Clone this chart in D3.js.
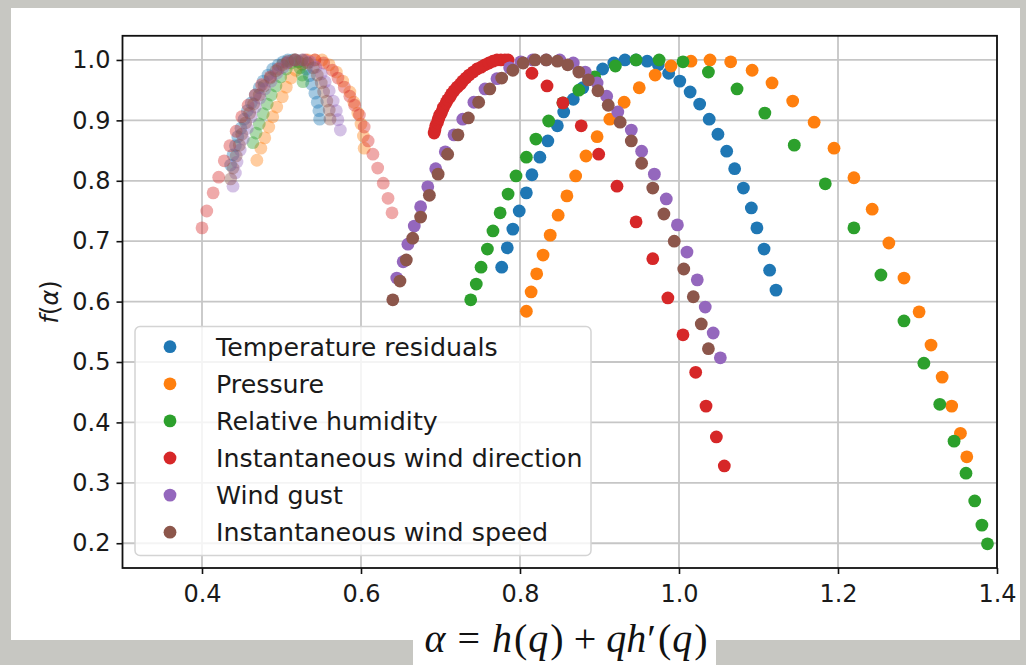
<!DOCTYPE html>
<html>
<head>
<meta charset="utf-8">
<script src="https://cdn.jsdelivr.net/npm/d3@7"></script>
<style>
  html, body { margin: 0; padding: 0; background: #c7c7c2; }
  svg { display: block; }
</style>
</head>
<body>
<svg id="chart" width="1026" height="665"></svg>
<script>
// ---- Series names (legend order) ----
const seriesNames = [
  "Temperature residuals",
  "Pressure",
  "Relative humidity",
  "Instantaneous wind direction",
  "Wind gust",
  "Instantaneous wind speed"
];

// ---- Multifractal spectra of the original records: alpha and f(alpha) ----
const tempAlpha = [0.777,0.784,0.791,0.799,0.808,0.815,0.825,0.835,0.847,0.855,0.867,0.879,0.892,0.904,0.918,0.932,0.946,0.960,0.974,0.987,1.001,1.014,1.026,1.038,1.049,1.060,1.070,1.081,1.091,1.098,1.107,1.114,1.122];
const tempF     = [0.657,0.689,0.720,0.750,0.780,0.810,0.839,0.866,0.891,0.914,0.935,0.954,0.970,0.985,0.995,1.000,1.000,0.998,0.992,0.978,0.965,0.947,0.927,0.902,0.877,0.849,0.820,0.788,0.755,0.722,0.687,0.652,0.619];

const pressAlpha = [0.808,0.814,0.821,0.829,0.838,0.848,0.859,0.870,0.883,0.897,0.913,0.931,0.950,0.970,0.990,1.015,1.039,1.065,1.092,1.117,1.143,1.170,1.195,1.220,1.243,1.264,1.283,1.302,1.317,1.331,1.343,1.354,1.362];
const pressF     = [0.584,0.616,0.646,0.677,0.710,0.743,0.775,0.808,0.841,0.873,0.902,0.930,0.954,0.975,0.990,0.998,1.000,0.997,0.983,0.962,0.932,0.897,0.854,0.805,0.753,0.697,0.639,0.583,0.528,0.475,0.427,0.382,0.343];

const humAlpha = [0.738,0.745,0.751,0.759,0.766,0.775,0.785,0.795,0.808,0.820,0.836,0.854,0.874,0.894,0.920,0.946,0.975,1.005,1.037,1.073,1.108,1.145,1.184,1.220,1.254,1.283,1.308,1.328,1.346,1.361,1.372,1.381,1.388];
const humF     = [0.603,0.629,0.657,0.687,0.717,0.747,0.778,0.808,0.839,0.869,0.899,0.929,0.950,0.972,0.990,1.000,1.000,0.997,0.980,0.952,0.912,0.859,0.795,0.722,0.644,0.568,0.498,0.430,0.369,0.316,0.270,0.230,0.199];

const dirAlpha = [0.692,0.693,0.694,0.696,0.697,0.698,0.699,0.701,0.703,0.704,0.707,0.709,0.712,0.714,0.717,0.721,0.725,0.728,0.732,0.736,0.741,0.746,0.751,0.756,0.761,0.766,0.771,0.776,0.781,0.785,
                  0.815,0.834,0.854,0.877,0.899,0.922,0.946,0.967,0.986,1.005,1.021,1.034,1.047,1.057];
const dirF     = [0.879,0.884,0.891,0.896,0.901,0.904,0.909,0.912,0.919,0.922,0.929,0.934,0.939,0.944,0.949,0.955,0.960,0.965,0.970,0.975,0.980,0.985,0.988,0.992,0.995,0.998,1.000,1.000,1.000,1.000,
                  0.978,0.957,0.929,0.891,0.844,0.791,0.732,0.671,0.606,0.545,0.483,0.427,0.376,0.328];

const gustAlpha = [0.645,0.653,0.659,0.667,0.675,0.684,0.694,0.706,0.717,0.728,0.742,0.756,0.771,0.787,0.801,0.816,0.833,0.850,0.867,0.882,0.897,0.909,0.923,0.940,0.953,0.969,0.984,0.998,1.010,1.023,1.033,1.043,1.052];
const gustF     = [0.639,0.666,0.695,0.725,0.757,0.790,0.820,0.848,0.876,0.902,0.930,0.952,0.969,0.987,0.997,1.000,1.000,1.000,0.995,0.980,0.962,0.940,0.914,0.884,0.849,0.811,0.770,0.727,0.682,0.636,0.591,0.548,0.507];

const speedAlpha = [0.640,0.649,0.657,0.665,0.675,0.686,0.697,0.709,0.722,0.735,0.748,0.762,0.777,0.791,0.804,0.819,0.833,0.847,0.860,0.874,0.886,0.898,0.911,0.926,0.940,0.953,0.967,0.981,0.994,1.006,1.018,1.028,1.037];
const speedF     = [0.603,0.634,0.669,0.705,0.740,0.776,0.811,0.844,0.876,0.904,0.930,0.952,0.970,0.983,0.995,1.000,1.000,0.998,0.992,0.980,0.967,0.949,0.925,0.897,0.866,0.829,0.788,0.745,0.700,0.654,0.608,0.563,0.522];

// ---- Spectra of the shuffled surrogates (drawn faded, no legend entry) ----
const tempSurAlpha = [0.436,0.439,0.442,0.445,0.449,0.453,0.457,0.462,0.467,0.472,0.477,0.483,0.489,0.496,0.502,0.508,0.514,0.521,0.526,0.531,0.535,0.538,0.542,0.545,0.547,0.548];
const tempSurF     = [0.826,0.843,0.858,0.873,0.887,0.902,0.916,0.929,0.942,0.954,0.965,0.975,0.985,0.992,0.997,1.000,1.000,0.998,0.993,0.985,0.974,0.960,0.945,0.930,0.916,0.902];

const pressSurAlpha = [0.469,0.474,0.479,0.484,0.489,0.494,0.501,0.506,0.512,0.518,0.526,0.533,0.542,0.551,0.560,0.569,0.577,0.586,0.591,0.596,0.600,0.603,0.604];
const pressSurF     = [0.834,0.854,0.871,0.889,0.906,0.922,0.939,0.955,0.970,0.983,0.993,1.000,1.000,1.000,0.992,0.980,0.965,0.947,0.930,0.912,0.894,0.874,0.854];

const humSurAlpha = [0.464,0.468,0.472,0.477,0.482,0.487,0.493,0.499,0.506,0.512,0.517,0.521,0.523,0.526,0.527];
const humSurF     = [0.863,0.879,0.894,0.911,0.927,0.942,0.957,0.972,0.985,0.995,1.000,0.997,0.987,0.975,0.964];

const dirSurAlpha = [0.400,0.406,0.414,0.421,0.428,0.435,0.443,0.450,0.458,0.467,0.475,0.486,0.496,0.507,0.517,0.530,0.542,0.553,0.564,0.571,0.579,0.586,0.592,0.598,0.604,0.609,0.615,0.621,0.628,0.634,0.639];
const dirSurF     = [0.722,0.750,0.780,0.806,0.833,0.858,0.882,0.906,0.925,0.942,0.959,0.972,0.985,0.995,1.000,1.000,1.000,0.995,0.983,0.970,0.955,0.940,0.925,0.909,0.889,0.866,0.844,0.821,0.796,0.771,0.747];

const gustSurAlpha = [0.439,0.442,0.444,0.448,0.452,0.457,0.462,0.467,0.473,0.479,0.487,0.494,0.502,0.509,0.518,0.527,0.536,0.543,0.550,0.555,0.560,0.565,0.569,0.571,0.574];
const gustSurF     = [0.791,0.813,0.831,0.851,0.869,0.887,0.906,0.922,0.937,0.952,0.965,0.978,0.988,0.997,1.000,1.000,0.997,0.988,0.977,0.964,0.949,0.932,0.916,0.901,0.884];

const speedSurAlpha = [0.436,0.439,0.443,0.447,0.450,0.455,0.460,0.465,0.472,0.478,0.486,0.493,0.501,0.508,0.517,0.526,0.533,0.540,0.545,0.550,0.553,0.557,0.560,0.561];
const speedSurF     = [0.803,0.821,0.841,0.859,0.877,0.896,0.912,0.927,0.942,0.957,0.970,0.982,0.992,0.998,1.000,1.000,0.995,0.987,0.975,0.962,0.947,0.932,0.917,0.902];

// ---- Axis ticks ----
const xTicks = [0.4, 0.6, 0.8, 1.0, 1.2, 1.4];
const yTicks = [0.2, 0.3, 0.4, 0.5, 0.6, 0.7, 0.8, 0.9, 1.0];

// ---- Styling ----
const colors = ["#1f77b4", "#ff7f0e", "#2ca02c", "#d62728", "#9467bd", "#8c564b"];
const fontSans = "'DejaVu Sans', 'Liberation Sans', sans-serif";
const fontSerif = "'Liberation Serif', 'DejaVu Serif', serif";

const originals = [
  [tempAlpha, tempF], [pressAlpha, pressF], [humAlpha, humF],
  [dirAlpha, dirF], [gustAlpha, gustF], [speedAlpha, speedF]
];
const surrogates = [
  [tempSurAlpha, tempSurF], [pressSurAlpha, pressSurF], [humSurAlpha, humSurF],
  [dirSurAlpha, dirSurF], [gustSurAlpha, gustSurF], [speedSurAlpha, speedSurF]
];

const svg = d3.select("#chart");

// page backdrop and white card
svg.append("rect").attr("x", 0).attr("y", 0).attr("width", 1026).attr("height", 665).attr("fill", "#c7c7c2");
svg.append("rect").attr("x", 11).attr("y", 8).attr("width", 1009).attr("height", 632).attr("fill", "#ffffff");
svg.append("rect").attr("x", 413).attr("y", 620).attr("width", 303).attr("height", 45).attr("fill", "#ffffff");

// plot area
const plot = { left: 122.5, right: 997, top: 35.8, bottom: 568 };
const x = d3.scaleLinear().domain([0.3, 1.4]).range([plot.left, plot.right]);
const y = d3.scaleLinear().domain([0.159, 1.040]).range([plot.bottom, plot.top]);

const g = svg.append("g");

// grid
g.append("g").selectAll("line").data(xTicks).join("line")
  .attr("x1", d => x(d)).attr("x2", d => x(d))
  .attr("y1", plot.top).attr("y2", plot.bottom)
  .attr("stroke", "#c6c6c6").attr("stroke-width", 1.8);
g.append("g").selectAll("line").data(yTicks).join("line")
  .attr("x1", plot.left).attr("x2", plot.right)
  .attr("y1", d => y(d)).attr("y2", d => y(d))
  .attr("stroke", "#c6c6c6").attr("stroke-width", 1.8);

// clip for markers
svg.append("defs").append("clipPath").attr("id", "plotclip")
  .append("rect").attr("x", plot.left).attr("y", plot.top)
  .attr("width", plot.right - plot.left).attr("height", plot.bottom - plot.top);

const marks = g.append("g").attr("clip-path", "url(#plotclip)");
const R = 6.4;

function drawSeries(pair, color, opacity) {
  const pts = pair[0].map((a, i) => [a, pair[1][i]]);
  marks.append("g").selectAll("circle").data(pts).join("circle")
    .attr("cx", d => x(d[0])).attr("cy", d => y(d[1]))
    .attr("r", R).attr("fill", color).attr("fill-opacity", opacity);
}

surrogates.forEach((s, i) => drawSeries(s, colors[i], 0.4));
originals.forEach((s, i) => drawSeries(s, colors[i], 1));

// axes
const xAxis = d3.axisBottom(x).tickValues(xTicks).tickFormat(d3.format(".1f")).tickSize(6).tickPadding(6);
const yAxis = d3.axisLeft(y).tickValues(yTicks).tickFormat(d3.format(".1f")).tickSize(6).tickPadding(6);

const gx = g.append("g").attr("transform", `translate(0,${plot.bottom})`).call(xAxis);
const gy = g.append("g").attr("transform", `translate(${plot.left},0)`).call(yAxis);
[gx, gy].forEach(ax => {
  ax.select(".domain").remove();
  ax.selectAll(".tick line").attr("stroke", "#111").attr("stroke-width", 1.6);
  ax.selectAll(".tick text").attr("fill", "#1a1a1a")
    .style("font-family", fontSans).style("font-size", "24px");
});
gx.selectAll(".tick text").attr("dy", "0.92em");

// frame
g.append("rect").attr("x", plot.left).attr("y", plot.top)
  .attr("width", plot.right - plot.left).attr("height", plot.bottom - plot.top)
  .attr("fill", "none").attr("stroke", "#111").attr("stroke-width", 1.8);

// y label f(α)
const yl = svg.append("text")
  .attr("transform", `translate(58,${(plot.top + plot.bottom) / 2}) rotate(-90)`)
  .attr("text-anchor", "middle").attr("fill", "#1a1a1a")
  .style("font-family", fontSans).style("font-size", "24px");
yl.append("tspan").attr("font-style", "italic").text("f");
yl.append("tspan").text("(");
yl.append("tspan").attr("font-style", "italic").text("α");
yl.append("tspan").text(")");

// x label α = h(q) + qh′(q)
const xl = svg.append("text")
  .attr("x", 566).attr("y", 652).attr("text-anchor", "middle").attr("fill", "#111")
  .style("font-family", fontSerif).style("font-size", "40px");
[["α", true, 0], ["=", false, 12], ["h", true, 12], ["(", false, 2], ["q", true, 1], [")", false, 2],
 ["+", false, 10], ["qh", true, 10], ["′", false, 1], ["(", false, 2], ["q", true, 1], [")", false, 2]]
  .forEach(([t, it, dx]) => xl.append("tspan").attr("dx", dx)
    .attr("font-style", it ? "italic" : "normal").text(t));

// legend
const leg = svg.append("g");
leg.append("rect").attr("x", 135).attr("y", 326.5).attr("width", 456).attr("height", 229)
  .attr("rx", 5).attr("fill", "#ffffff").attr("fill-opacity", 0.8)
  .attr("stroke", "#d4d4d4").attr("stroke-width", 1.5);
const rows = leg.selectAll("g.row").data(seriesNames).join("g").attr("class", "row")
  .attr("transform", (d, i) => `translate(0,${346.7 + i * 37.1})`);
rows.append("circle").attr("cx", 170).attr("cy", 0).attr("r", R).attr("fill", (d, i) => colors[i]);
rows.append("text").attr("x", 216).attr("y", 0).attr("dy", "0.36em").attr("fill", "#1a1a1a")
  .style("font-family", fontSans).style("font-size", "25.3px").text(d => d);
</script>
</body>
</html>
